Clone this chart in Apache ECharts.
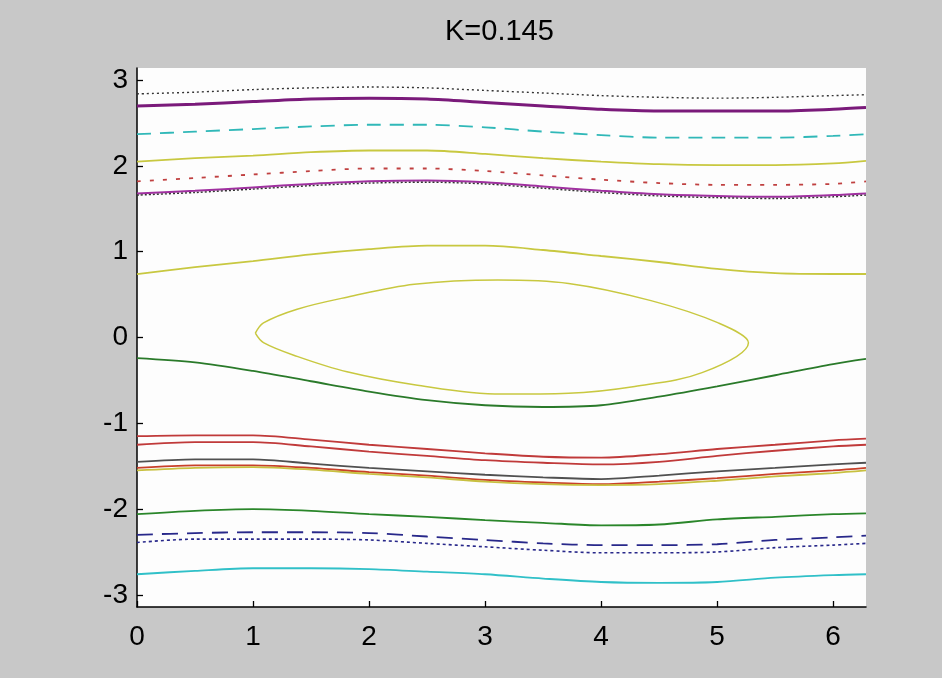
<!DOCTYPE html>
<html><head><meta charset="utf-8">
<script src="https://cdn.jsdelivr.net/npm/echarts@6/dist/echarts.min.js"></script>
<style>html,body{margin:0;padding:0;background:#c8c8c8}#c{width:942px;height:678px}</style>
</head><body><div id="c"></div>
<script>
var xs = [0, 0.5, 1, 1.5, 2, 2.5, 3, 3.5, 4, 4.5, 5, 5.5, 6, 6.283];
var xTicks = [0, 1, 2, 3, 4, 5, 6];
var yTicks = [-3, -2, -1, 0, 1, 2, 3];

var topDotted   = [2.84, 2.86, 2.89, 2.91, 2.92, 2.91, 2.88, 2.85, 2.82, 2.80, 2.79, 2.80, 2.82, 2.83];
var topPurple   = [2.70, 2.72, 2.75, 2.78, 2.79, 2.78, 2.74, 2.70, 2.66, 2.64, 2.64, 2.64, 2.66, 2.68];
var cyanDashed  = [2.37, 2.40, 2.43, 2.46, 2.48, 2.48, 2.45, 2.40, 2.36, 2.33, 2.33, 2.33, 2.35, 2.37];
var yellowTop   = [2.05, 2.09, 2.12, 2.16, 2.18, 2.18, 2.14, 2.09, 2.05, 2.02, 2.01, 2.01, 2.03, 2.06];
var redDotted   = [1.82, 1.86, 1.90, 1.94, 1.97, 1.97, 1.94, 1.89, 1.84, 1.80, 1.78, 1.78, 1.79, 1.82];
var magentaLow  = [1.68, 1.71, 1.75, 1.79, 1.82, 1.83, 1.81, 1.76, 1.71, 1.67, 1.65, 1.64, 1.66, 1.68];
var blackDotLow = [1.66, 1.69, 1.73, 1.77, 1.80, 1.81, 1.79, 1.74, 1.69, 1.65, 1.63, 1.62, 1.64, 1.66];
var yellowMid   = [0.74, 0.82, 0.89, 0.97, 1.03, 1.07, 1.07, 1.02, 0.95, 0.88, 0.80, 0.75, 0.74, 0.74];
var greenMid    = [-0.24, -0.29, -0.39, -0.51, -0.63, -0.73, -0.79, -0.81, -0.79, -0.69, -0.57, -0.44, -0.31, -0.25];
var redA        = [-1.15, -1.14, -1.14, -1.19, -1.25, -1.30, -1.35, -1.39, -1.40, -1.36, -1.30, -1.25, -1.20, -1.18];
var redB        = [-1.25, -1.22, -1.22, -1.27, -1.33, -1.38, -1.43, -1.46, -1.48, -1.45, -1.38, -1.32, -1.27, -1.25];
var grayLow     = [-1.45, -1.42, -1.42, -1.47, -1.52, -1.56, -1.60, -1.63, -1.65, -1.61, -1.56, -1.52, -1.48, -1.46];
var redC        = [-1.52, -1.49, -1.49, -1.52, -1.57, -1.61, -1.66, -1.69, -1.71, -1.68, -1.64, -1.59, -1.55, -1.52];
var yellowLow   = [-1.55, -1.52, -1.51, -1.54, -1.59, -1.63, -1.68, -1.71, -1.72, -1.71, -1.67, -1.62, -1.58, -1.55];
var greenLow    = [-2.06, -2.02, -2.00, -2.02, -2.06, -2.09, -2.13, -2.16, -2.19, -2.18, -2.12, -2.09, -2.06, -2.05];
var navyDashed  = [-2.30, -2.28, -2.27, -2.27, -2.28, -2.32, -2.36, -2.40, -2.42, -2.42, -2.41, -2.36, -2.33, -2.31];
var navyDotted  = [-2.39, -2.35, -2.35, -2.35, -2.36, -2.40, -2.44, -2.48, -2.51, -2.51, -2.50, -2.45, -2.42, -2.40];
var cyanLow     = [-2.76, -2.72, -2.69, -2.69, -2.70, -2.73, -2.76, -2.81, -2.85, -2.86, -2.85, -2.80, -2.77, -2.76];

var islandX = [1.02, 1.09, 1.38, 1.81, 2.39, 3.11, 3.72, 4.43, 5.01, 5.27, 4.87, 4.29, 3.72, 3.14, 2.39, 1.81, 1.38, 1.09, 1.02];
var islandY = [0.05, 0.17, 0.33, 0.47, 0.62, 0.67, 0.63, 0.43, 0.17, -0.06, -0.41, -0.57, -0.65, -0.66, -0.55, -0.40, -0.22, -0.06, 0.05];

function pairs(xa, ya) { return xa.map(function (x, i) { return [x, ya[i]]; }); }
function ln(data, color, width, type, smooth) {
  return { type: 'line', data: data, symbol: 'none', smooth: smooth === undefined ? 0.3 : smooth,
    lineStyle: { color: color, width: width, type: type }, silent: true, animation: false };
}

var series = [
  ln(pairs(xs, topDotted), '#333333', 1.4, [2, 3]),
  ln(pairs(xs, topPurple), '#7a1a7a', 3, 'solid'),
  ln(pairs(xs, cyanDashed), '#30b8b8', 1.8, [14, 9]),
  ln(pairs(xs, yellowTop), '#c8c840', 1.8, 'solid'),
  ln(pairs(xs, redDotted), '#c04040', 1.8, [4, 9]),
  ln(pairs(xs, magentaLow), '#a030a0', 2, 'solid'),
  ln(pairs(xs, blackDotLow), '#333333', 1.4, [2, 2]),
  ln(pairs(xs, yellowMid), '#c8c840', 1.8, 'solid'),
  ln(pairs(islandX, islandY), '#c8c840', 1.5, 'solid', 0.35),
  ln(pairs(xs, greenMid), '#2a7a2a', 1.8, 'solid'),
  ln(pairs(xs, redA), '#c03a3a', 1.8, 'solid'),
  ln(pairs(xs, redB), '#c03a3a', 1.8, 'solid'),
  ln(pairs(xs, grayLow), '#505050', 1.8, 'solid'),
  ln(pairs(xs, redC), '#c8402a', 1.8, 'solid'),
  ln(pairs(xs, yellowLow), '#c8c040', 1.8, 'solid'),
  ln(pairs(xs, greenLow), '#2a862a', 1.8, 'solid'),
  ln(pairs(xs, navyDashed), '#28288a', 1.8, [16, 9]),
  ln(pairs(xs, navyDotted), '#28288a', 1.6, [3, 3]),
  ln(pairs(xs, cyanLow), '#30c0c8', 1.8, 'solid')
];

var FONT = '"Liberation Sans", Arial, sans-serif';
var chart = echarts.init(document.getElementById('c'), null, { renderer: 'canvas' });
chart.setOption({
  backgroundColor: '#c8c8c8',
  animation: false,
  title: { text: 'K=0.145', left: 440, top: 12,
    textStyle: { fontFamily: FONT, fontSize: 29, fontWeight: 'normal', color: '#000' } },
  grid: { left: 137, top: 68, width: 729, height: 539, show: true, backgroundColor: '#fdfdfd', borderWidth: 0 },
  xAxis: {
    type: 'value', min: 0, max: 2 * Math.PI,
    splitLine: { show: false },
    axisLine: { show: true, onZero: false, lineStyle: { color: '#000', width: 1.5 } },
    axisTick: { show: true, inside: true, length: 6, customValues: xTicks, lineStyle: { color: '#000', width: 1.3 } },
    axisLabel: { customValues: xTicks, margin: 16, fontFamily: FONT, fontSize: 28, color: '#000' }
  },
  yAxis: {
    type: 'value', min: -Math.PI, max: Math.PI,
    splitLine: { show: false },
    axisLine: { show: true, onZero: false, lineStyle: { color: '#000', width: 1.5 } },
    axisTick: { show: true, inside: true, length: 6, customValues: yTicks, lineStyle: { color: '#000', width: 1.3 } },
    axisLabel: { customValues: yTicks, margin: 9, fontFamily: FONT, fontSize: 28, color: '#000' }
  },
  series: series
});
</script></body></html>
